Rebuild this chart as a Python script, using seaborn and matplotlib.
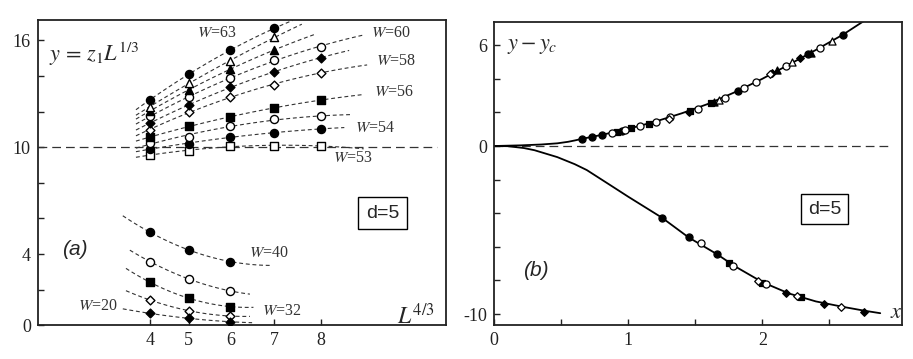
import numpy as np
import pandas as pd
import matplotlib
matplotlib.use("Agg")
import matplotlib.pyplot as plt
import seaborn as sns

# ---------------- Panel (a) data ----------------
L_ticks = [4, 5, 6, 7, 8]
L_upper = [4, 5, 6, 7, 8]
W53 = [9.57, 9.80, 10.08, 10.08, 10.08]
W54 = [9.92, 10.17, 10.60, 10.83, 11.02]
W55 = [10.22, 10.60, 11.20, 11.58, 11.73]
W56 = [10.55, 11.22, 11.69, 12.20, 12.66]
W58 = [10.98, 12.00, 12.80, 13.51, 14.20]
W59 = [11.36, 12.38, 13.38, 14.22, 15.04]
W60 = [11.76, 12.80, 13.88, 14.91, 15.66]
L_top = [4, 5, 6, 7]
W61 = [12.04, 13.23, 14.39, 15.47]
W62 = [12.28, 13.60, 14.87, 16.17]
W63 = [12.66, 14.13, 15.44, 16.69]
L_lower = [4, 5, 6]
W40 = [5.23, 4.23, 3.58]
W36 = [3.58, 2.60, 1.93]
W32 = [2.42, 1.52, 1.05]
W26 = [1.42, 0.82, 0.52]
W20 = [0.67, 0.39, 0.20]

# fit-line ranges (in L)
fit_lo_upper = 3.62
fit_hi = {"53": 8.9, "54": 8.5, "55": 8.65, "56": 8.9, "58": 8.97, "59": 8.6,
          "60": 8.9, "61": 7.87, "62": 7.6, "63": 7.4,
          "40": 6.95, "36": 6.45, "32": 6.53, "26": 6.45, "20": 6.5}
fit_lo = {"40": 3.25, "36": 3.45, "32": 3.34, "26": 3.34, "20": 3.25}

# ---------------- Panel (b) data ----------------
up_x = [0.652, 0.727, 0.80, 0.876, 0.913, 0.951, 0.975, 1.02, 1.087, 1.157, 1.207, 1.30, 1.31,
        1.45, 1.46, 1.52, 1.62, 1.64, 1.68, 1.72, 1.82, 1.86, 1.95, 2.06, 2.07, 2.11, 2.18, 2.22,
        2.28, 2.34, 2.36, 2.43, 2.52, 2.60]
up_y = [0.44, 0.55, 0.66, 0.77, 0.84, 0.92, 0.96, 1.06, 1.18, 1.33, 1.44, 1.62, 1.70,
        2.05, 2.08, 2.22, 2.55, 2.62, 2.75, 2.88, 3.28, 3.45, 3.82, 4.28, 4.33, 4.50, 4.78, 4.98,
        5.22, 5.48, 5.56, 5.84, 6.24, 6.62]
up_kind = ["fc", "fc", "fc", "oc", "fs", "fc", "oc", "fs", "oc", "fs", "oc", "od", "oc",
           "fd", "fs", "oc", "fs", "ft", "ot", "oc", "fc", "oc", "oc", "od", "fd", "ft", "oc", "ot",
           "fd", "fc", "ft", "oc", "ot", "fc"]
lo_x = [1.25, 1.45, 1.54, 1.66, 1.75, 1.78, 1.97, 2.00, 2.03, 2.18, 2.26, 2.29, 2.46, 2.59, 2.76]
lo_y = [-4.26, -5.44, -5.78, -6.43, -6.96, -7.16, -8.01, -8.15, -8.19, -8.74, -8.90, -9.00,
        -9.38, -9.56, -9.85]
lo_kind = ["fc", "fc", "oc", "fc", "fs", "oc", "od", "fs", "oc", "fd", "od", "fs", "fd", "od", "fd"]

curve_up_x = [0.0, 0.2, 0.35, 0.47, 0.55, 0.6, 0.65, 0.8, 1.0, 1.2, 1.4, 1.6, 1.8, 2.0, 2.2, 2.4,
              2.6, 2.76]
curve_up_y = [0.0, 0.04, 0.09, 0.16, 0.25, 0.33, 0.42, 0.66, 1.02, 1.45, 1.95, 2.52, 3.22, 4.00,
              4.85, 5.72, 6.62, 7.45]
curve_lo_x = [0.0, 0.1, 0.22, 0.3, 0.47, 0.6, 0.69, 0.86, 1.0, 1.25, 1.45, 1.66, 1.8, 2.0, 2.2,
              2.4, 2.6, 2.76, 2.88]
curve_lo_y = [0.0, -0.01, -0.12, -0.25, -0.66, -1.08, -1.43, -2.30, -3.02, -4.26, -5.44, -6.43,
              -7.18, -8.10, -8.78, -9.25, -9.57, -9.80, -9.95]

# ---------------- style ----------------
sns.set_style("ticks")
plt.rcParams["font.family"] = ["Liberation Serif", "DejaVu Serif"]
plt.rcParams["mathtext.fontset"] = "stix"
plt.rcParams["axes.unicode_minus"] = False
plt.rcParams["axes.linewidth"] = 1.3
plt.rcParams["axes.edgecolor"] = "#222222"

styles = {
    "fc": ("o", "black", 34), "oc": ("o", "white", 34),
    "fs": ("s", "black", 30), "os": ("s", "white", 30),
    "fd": ("D", "black", 20), "od": ("D", "white", 20),
    "ft": ("^", "black", 34), "ot": ("^", "white", 34),
}

fig = plt.figure(figsize=(9.13, 3.59), dpi=100)
axa = fig.add_axes([0.0413, 0.0939, 0.4472, 0.8504])
axb = fig.add_axes([0.5414, 0.0939, 0.4462, 0.8457])

# ---------------- panel (a) ----------------
series_a = [
    ("53", L_upper, W53, "os"), ("54", L_upper, W54, "fc"), ("55", L_upper, W55, "oc"),
    ("56", L_upper, W56, "fs"), ("58", L_upper, W58, "od"), ("59", L_upper, W59, "fd"),
    ("60", L_upper, W60, "oc"), ("61", L_top, W61, "ft"), ("62", L_top, W62, "ot"),
    ("63", L_top, W63, "fc"),
    ("40", L_lower, W40, "fc"), ("36", L_lower, W36, "oc"), ("32", L_lower, W32, "fs"),
    ("26", L_lower, W26, "od"), ("20", L_lower, W20, "fd"),
]

axa.axhline(10, color="#333333", lw=0.9, ls=(0, (7, 4)), xmax=22.6 / 23.1, zorder=1)

for w, Ls, ys, kind in series_a:
    X = np.asarray(Ls, float) ** (4 / 3)
    coef = np.polyfit(X, ys, 2)
    lo = fit_lo.get(w, fit_lo_upper)
    xx = np.linspace(lo ** (4 / 3), fit_hi[w] ** (4 / 3), 60)
    dfl = pd.DataFrame({"x": xx, "y": np.polyval(coef, xx)})
    sns.lineplot(data=dfl, x="x", y="y", ax=axa, color="#333333", lw=0.8,
                 linestyle=(0, (3.5, 2.5)), sort=False, estimator=None, zorder=2)
    m, fcol, s = styles[kind]
    dfp = pd.DataFrame({"x": X, "y": ys})
    sns.scatterplot(data=dfp, x="x", y="y", ax=axa, marker=m, color=fcol, edgecolor="black",
                    linewidth=1.0, s=s, zorder=3)

axa.set_xlim(0, 23.1)
axa.set_ylim(0, 17.15)
axa.set_xticks(np.asarray(L_ticks, float) ** (4 / 3))
axa.set_xticklabels([str(v) for v in L_ticks])
yt = np.arange(0, 17, 2)
axa.set_yticks(yt)
axa.set_yticklabels([str(v) if v in (0, 4, 10, 16) else "" for v in yt])
axa.set_xlabel("")
axa.set_ylabel("")
axa.tick_params(direction="in", length=4, width=1.0, labelsize=13, pad=5, colors="#222222")

wl = dict(fontsize=11.5, color="#333333")
axa.text(10.12, 16.41, r"$W$=63", ha="center", va="center", **wl)
axa.text(19.96, 16.41, r"$W$=60", ha="center", va="center", **wl)
axa.text(20.29, 14.86, r"$W$=58", ha="center", va="center", **wl)
axa.text(20.17, 13.1, r"$W$=56", ha="center", va="center", **wl)
axa.text(19.1, 11.1, r"$W$=54", ha="center", va="center", **wl)
axa.text(17.8, 9.39, r"$W$=53", ha="center", va="center", **wl)
axa.text(13.1, 4.08, r"$W$=40", ha="center", va="center", **wl)
axa.text(13.81, 0.8, r"$W$=32", ha="center", va="center", **wl)
axa.text(3.38, 1.08, r"$W$=20", ha="center", va="center", **wl)
axa.text(0.64, 15.2, r"$y\,=\,z_1L^{1/3}$", ha="left", va="center", fontsize=16)
axa.text(20.35, 0.05, r"$L^{4/3}$", ha="left", va="baseline", fontsize=17)
axa.text(2.08, 4.23, "(a)", ha="center", va="center", fontsize=15, style="italic",
         family=["Liberation Sans"])
axa.text(19.5, 6.3, "d=5", ha="center", va="center", fontsize=14, family=["Liberation Sans"],
         bbox=dict(boxstyle="square,pad=0.4", fc="white", ec="black", lw=1.0))

# ---------------- panel (b) ----------------
axb.axhline(0, color="#333333", lw=0.9, ls=(0, (7, 4)), xmax=2.96 / 3.04, zorder=1)
for cx, cy in ((curve_up_x, curve_up_y), (curve_lo_x, curve_lo_y)):
    dfc = pd.DataFrame({"x": cx, "y": cy})
    sns.lineplot(data=dfc, x="x", y="y", ax=axb, color="black", lw=1.3, sort=False,
                 estimator=None, zorder=2)

dfb = pd.DataFrame({"x": up_x + lo_x, "y": up_y + lo_y, "kind": up_kind + lo_kind})
bsize = {"o": 26, "s": 22, "D": 15, "^": 26}
for kind, grp in dfb.groupby("kind"):
    m, fcol, _ = styles[kind]
    sns.scatterplot(data=grp, x="x", y="y", ax=axb, marker=m, color=fcol, edgecolor="black",
                    linewidth=0.9, s=bsize[m], zorder=3)

axb.set_xlim(0, 3.04)
axb.set_ylim(-10.67, 7.4)
xt = np.arange(0, 3.0, 0.5)
axb.set_xticks(xt)
axb.set_xticklabels([("%d" % v) if float(v).is_integer() else "" for v in xt])
ytb = np.arange(-10, 7, 2)
axb.set_yticks(ytb)
axb.set_yticklabels([str(v) if v in (-10, 0, 6) else "" for v in ytb])
axb.set_xlabel("")
axb.set_ylabel("")
axb.tick_params(direction="in", length=4, width=1.0, labelsize=13, pad=5, colors="#222222")

axb.text(0.093, 5.9, r"$y-y_c$", ha="left", va="center", fontsize=16)
axb.text(2.95, -9.96, r"$x$", ha="left", va="center", fontsize=16)
axb.text(0.31, -7.38, "(b)", ha="center", va="center", fontsize=15, style="italic",
         family=["Liberation Sans"])
axb.text(2.467, -3.75, "d=5", ha="center", va="center", fontsize=14, family=["Liberation Sans"],
         bbox=dict(boxstyle="square,pad=0.35", fc="white", ec="black", lw=1.0))

for ax in (axa, axb):
    for sp in ax.spines.values():
        sp.set_visible(True)

fig.savefig("out.png", dpi=100)
